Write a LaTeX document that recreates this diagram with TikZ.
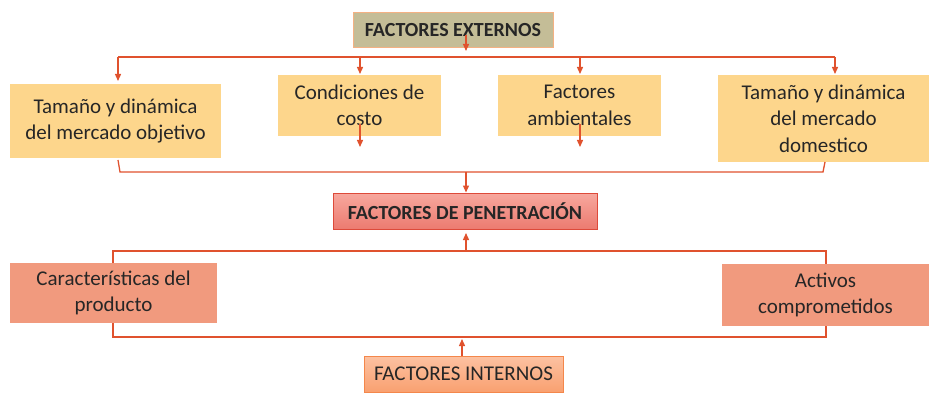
\documentclass[tikz,border=0pt]{standalone}
\usepackage{fontspec}
\setmainfont{Carlito}
\usetikzlibrary{arrows.meta}
\definecolor{lnc}{HTML}{E0522E}
\definecolor{extfill}{HTML}{C4BD97}
\definecolor{extdraw}{HTML}{F4B183}
\definecolor{yel}{HTML}{FDD68C}
\definecolor{pentop}{HTML}{F7A89E}
\definecolor{penbot}{HTML}{EC7B70}
\definecolor{pendraw}{HTML}{DD4A3A}
\definecolor{sal}{HTML}{F19A7E}
\definecolor{inttop}{HTML}{FCC2A2}
\definecolor{intbot}{HTML}{F9A070}
\definecolor{intdraw}{HTML}{F4874B}
\definecolor{txt}{HTML}{262626}
\tikzset{
  x=1pt,y=-1pt,
  base/.style={inner sep=0pt,align=center,text=txt,font=\fontsize{21}{26.5}\selectfont},
  extbox/.style={base,fill=extfill,draw=extdraw,line width=1pt,font=\fontsize{20}{24}\selectfont\bfseries},
  ybox/.style={base,fill=yel},
  penbox/.style={base,top color=pentop,bottom color=penbot,draw=pendraw,line width=1pt,font=\fontsize{20}{24}\selectfont\bfseries},
  sbox/.style={base,fill=sal},
  intbox/.style={base,top color=inttop,bottom color=intbot,draw=intdraw,line width=1pt,font=\fontsize{21}{24}\selectfont},
  conn/.style={draw=lnc,line width=1.3pt},
  arr/.style={conn,-{Triangle[width=6pt,length=7pt]}},
}
\begin{document}
\begin{tikzpicture}
\useasboundingbox (0,0) rectangle (940,401);
% nodes
\node[extbox,minimum width=200,minimum height=35] (ext) at (453,30.5) {FACTORES EXTERNOS};
\node[ybox,minimum width=211,minimum height=74] (b1) at (115.5,121) {Tamaño y dinámica\\del mercado objetivo};
\node[ybox,minimum width=163,minimum height=61] (b2) at (359.5,105.5) {Condiciones de\\costo};
\node[ybox,minimum width=163,minimum height=61] (b3) at (579.5,105.5) {Factores\\ambientales};
\node[ybox,minimum width=211,minimum height=87] (b4) at (823.5,118.5) {Tamaño y dinámica\\del mercado\\domestico};
\node[penbox,minimum width=264,minimum height=36] (pen) at (465,211) {FACTORES DE PENETRACIÓN};
\node[sbox,minimum width=207,minimum height=60] (car) at (113.5,293) {Características del\\producto};
\node[sbox,minimum width=207,minimum height=62] (act) at (825.5,295) {Activos\\comprometidos};
\node[intbox,minimum width=199,minimum height=36] (int) at (463.5,374) {FACTORES INTERNOS};
% top distribution
\coordinate (t0) at (466,35);
\coordinate (t1) at (466,51);
\coordinate (tl) at (118,57);
\coordinate (tr) at (835,57);
\draw[arr] (t0) -- (t1);
\draw[conn] (tl) -- (tr);
\draw[arr] (tl) -- (118,81);
\draw[arr] (360,57) -- (360,74);
\draw[arr] (580,57) -- (580,74);
\draw[arr] (tr) -- (835,74);
% small arrows below boxes 2 and 3
\draw[arr] (360,124) -- (360,147);
\draw[arr] (580,124) -- (580,147);
% collector to penetration
\coordinate (c1) at (118,160);
\coordinate (c2) at (120,172);
\coordinate (c3) at (823,172);
\coordinate (c4) at (825,162);
\draw[conn] (c1) -- (c2) -- (c3) -- (c4);
\draw[arr] (466,172) -- (pen.north -| 466,0);
% internal factors
\coordinate (u1) at (113,263);
\coordinate (u2) at (113,251);
\coordinate (u3) at (826,251);
\coordinate (u4) at (826,264);
\draw[conn] (u1) -- (u2) -- (u3) -- (u4);
\draw[arr] (466,251) -- (466,233);
\coordinate (l1) at (113,323);
\coordinate (l2) at (113,337);
\coordinate (l3) at (826,337);
\coordinate (l4) at (826,326);
\draw[conn] (l1) -- (l2) -- (l3) -- (l4);
\draw[arr] (int.north -| 462,0) -- (462,339);
\end{tikzpicture}
\end{document}
